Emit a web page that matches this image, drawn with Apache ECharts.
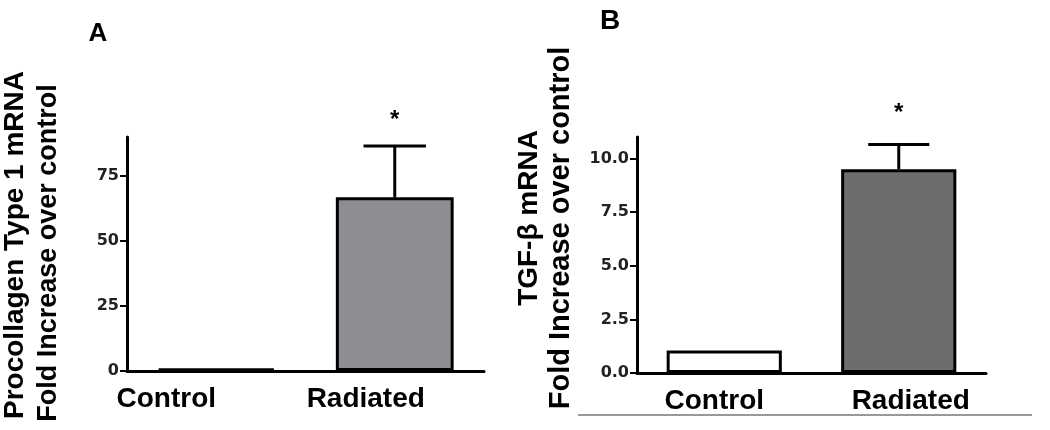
<!DOCTYPE html>
<html>
<head>
<meta charset="utf-8">
<script src="https://cdn.jsdelivr.net/npm/echarts@6/dist/echarts.min.js"></script>
<style>
  html, body { margin: 0; padding: 0; background: #fff; }
  #chart { width: 1050px; height: 430px; }
</style>
</head>
<body>
<div id="chart"></div>
<script>
  // data
  const categories = ['Control', 'Radiated'];
  const procollagenMean = [1, 66.8];
  const procollagenErr = [null, 19.7];
  const tgfMean = [1.05, 9.5];
  const tgfErr = [null, 1.15];
  const procollagenTicks = [0, 25, 50, 75];
  const tgfTicks = [0, 2.5, 5, 7.5, 10];
  const procollagenFill = ['#ffffff', '#8e8d92'];
  const tgfFill = ['#ffffff', '#6d6d6d'];

  const FONT = 'Liberation Sans, Arial, sans-serif';
  const TICKFONT = 'DejaVu Sans, sans-serif';

  // shift of the category labels (px), like in the original figure
  const labelShiftA = [-50, -29];
  const labelShiftB = [-10, 12];

  function catData(shift) {
    return categories.map(function (c, i) {
      let pad = shift[i] < 0 ? [0, -2 * shift[i], 0, 0] : [0, 0, 0, 2 * shift[i]];
      return { value: c, textStyle: { padding: pad } };
    });
  }

  function xAxisFor(gridIndex, shift) {
    return {
      type: 'category',
      gridIndex: gridIndex,
      data: catData(shift),
      axisLine: { lineStyle: { color: '#000', width: 3 } },
      axisTick: { alignWithLabel: true, length: 8, lineStyle: { color: '#000', width: 3 } },
      axisLabel: { color: '#000', fontFamily: FONT, fontWeight: 'bold', fontSize: 28, margin: 14 },
      splitLine: { show: false }
    };
  }

  function yAxisFor(gridIndex, max, interval, ticks, fmt) {
    return {
      type: 'value',
      gridIndex: gridIndex,
      min: 0,
      max: max,
      interval: interval,
      axisLine: { show: true, lineStyle: { color: '#000', width: 3 } },
      axisTick: { show: true, length: 7, customValues: ticks, lineStyle: { color: '#000', width: 2 } },
      axisLabel: {
        customValues: ticks, color: '#222', fontFamily: TICKFONT, fontWeight: 'bold',
        fontSize: 16, margin: 8, formatter: fmt
      },
      splitLine: { show: false }
    };
  }

  function barSeries(idx, values, fills) {
    return {
      type: 'bar',
      xAxisIndex: idx,
      yAxisIndex: idx,
      barWidth: '66%',
      data: values.map(function (v, i) {
        return { value: v, itemStyle: { color: fills[i] } };
      }),
      itemStyle: { borderColor: '#000', borderWidth: 3 },
      silent: true,
      z: 2
    };
  }

  function errSeries(idx, means, errs, starGap) {
    let pts = [];
    means.forEach(function (m, i) {
      if (errs[i] != null) pts.push([i, m, errs[i]]);
    });
    return {
      type: 'custom',
      xAxisIndex: idx,
      yAxisIndex: idx,
      data: pts,
      z: 3,
      silent: true,
      renderItem: function (params, api) {
        let x = api.value(0), m = api.value(1), e = api.value(2);
        let p0 = api.coord([x, m]);
        let p1 = api.coord([x, m + e]);
        let half = api.size([1, 0])[0] * 0.175;
        let st = { stroke: '#000', lineWidth: 3 };
        return {
          type: 'group',
          children: [
            { type: 'line', shape: { x1: p0[0], y1: p0[1], x2: p1[0], y2: p1[1] }, style: st },
            { type: 'line', shape: { x1: p1[0] - half, y1: p1[1], x2: p1[0] + half, y2: p1[1] }, style: st },
            {
              type: 'text', x: p1[0], y: p1[1] - starGap,
              style: { text: '*', fill: '#000', font: 'bold 24px ' + FONT, align: 'center', verticalAlign: 'middle' }
            }
          ]
        };
      }
    };
  }

  function title(text, x, y, size) {
    return {
      type: 'text', x: x, y: y, rotation: Math.PI / 2,
      style: { text: text, fill: '#000', font: 'bold ' + size + 'px ' + FONT, align: 'center', verticalAlign: 'middle' }
    };
  }

  let chart = echarts.init(document.getElementById('chart'));
  chart.setOption({
    animation: false,
    backgroundColor: '#fff',
    grid: [
      { left: 127, top: 137, width: 357, height: 234 },
      { left: 637, top: 137, width: 349, height: 236 }
    ],
    xAxis: [xAxisFor(0, labelShiftA), xAxisFor(1, labelShiftB)],
    yAxis: [
      yAxisFor(0, 90, 25, procollagenTicks, function (v) { return String(v); }),
      yAxisFor(1, 11, 2.5, tgfTicks, function (v) { return v.toFixed(1); })
    ],
    series: [
      barSeries(0, procollagenMean, procollagenFill),
      errSeries(0, procollagenMean, procollagenErr, 26),
      barSeries(1, tgfMean, tgfFill),
      errSeries(1, tgfMean, tgfErr, 31)
    ],
    graphic: [
      { type: 'text', x: 98, y: 34, style: { text: 'A', fill: '#000', font: 'bold 26px ' + FONT, align: 'center', verticalAlign: 'middle' } },
      { type: 'text', x: 610, y: 21, style: { text: 'B', fill: '#000', font: 'bold 28px ' + FONT, align: 'center', verticalAlign: 'middle' } },
      title('Procollagen Type 1 mRNA', 15, 245, 28),
      title('Fold Increase over control', 49, 253, 27),
      title('TGF-β mRNA', 529, 218, 28),
      title('Fold Increase over control', 561, 228, 29),
      { type: 'line', shape: { x1: 578, y1: 415, x2: 1032, y2: 415 }, style: { stroke: '#999', lineWidth: 2 } }
    ]
  });
</script>
</body>
</html>
